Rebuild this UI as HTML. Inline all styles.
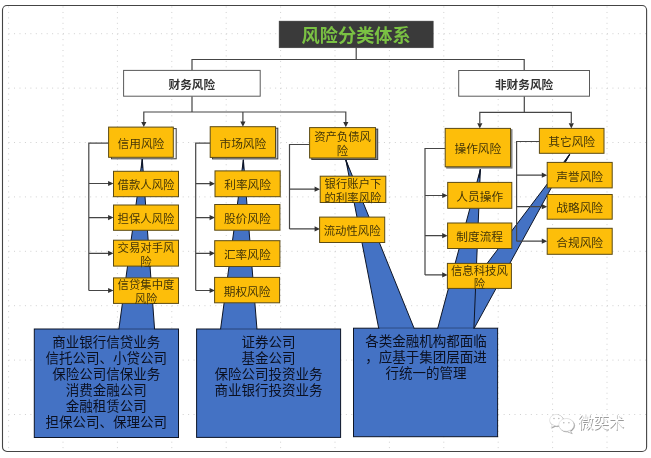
<!DOCTYPE html>
<html lang="zh-CN"><head><meta charset="utf-8"><title>风险分类体系</title><style>
html,body{margin:0;padding:0;background:#fff}
body{width:651px;height:458px;overflow:hidden;position:relative;font-family:"Liberation Sans","Noto Sans CJK SC",sans-serif}
#diagram{position:absolute;left:0;top:0;width:651px;height:458px;overflow:hidden}
#diagram svg{position:absolute;left:0;top:0;display:block;filter:blur(0.3px)}
#diagram svg text{font-family:"Liberation Sans","Noto Sans CJK SC",sans-serif;stroke:none}
</style></head>
<body>
<div id="diagram">
<svg width="651" height="458" viewBox="0 0 651 458" role="img" aria-label="风险分类体系"><rect x="2.5" y="5.5" width="644.1" height="446" rx="4.5" ry="4.5" fill="#fff" stroke="#444" stroke-width="1.1"/>
<path d="M8.6 6.5V450M63 6.5V450M117.4 6.5V450M171.8 6.5V450M226.2 6.5V450M280.6 6.5V450M335 6.5V450M389.4 6.5V450M443.8 6.5V450M498.2 6.5V450M552.6 6.5V450M607 6.5V450M8.6 33.7H646M8.6 88.1H646M8.6 142.5H646M8.6 196.9H646M8.6 251.3H646M8.6 305.7H646M8.6 360.1H646M8.6 414.5H646" fill="none" stroke="#d0d0d0" stroke-width="1" stroke-dasharray="1 4.44"/>
<g fill="#4472c4" stroke="#0d1527" stroke-width="1" stroke-linejoin="miter">
<path d="M118.8 329.6L142.3 159L154.6 329.6Z"/>
<rect x="34.3" y="329" width="144.2" height="108.5"/>
<path d="M220.5 329.6L243.4 159.8L257 329.6Z"/>
<rect x="196.6" y="329" width="144" height="108.4"/>
<path d="M378.8 328.8L345.8 159.8L414.3 328.8Z"/>
<path d="M437.6 328.8L569.7 154.3L473.9 328.8Z"/>
<path d="M437.6 328.8L480.4 169.2L473.9 328.8Z"/>
<rect x="353.5" y="328.2" width="144.1" height="108.5"/>
</g>
<path d="M142.3 159L142 168M243.4 159.8L243.15 168.8M345.8 159.8L348.4 168.42M569.7 154.3L564.77 161.83M480.4 169.2L479.02 178.09" fill="none" stroke="#0d1527" stroke-width="1.3" stroke-linecap="butt"/>
<path d="M119.5 329H153.9M221.2 329H256.3M379.5 328.2H413.6M438.3 328.2H473.2" fill="none" stroke="#4472c4" stroke-width="1.6" stroke-opacity="0.72"/>
<path d="M356.2 47.8V59.5M192 70.4V59.5H524.2V70.5M192 96.2V112M143.8 122V112H345.8V122M242.9 112V122M524.3 96.2V112.4M479.8 123V112.4H571.3V123M108.6 143.2H88.8V290.5M88.8 183.5H109.5M88.8 217.6H109.5M88.8 253.3H109.5M88.8 290.5H109.5M210.2 143.2H195.7V290.5M195.7 183.7H211M195.7 217.6H211M195.7 253.3H211M195.7 290.5H211M309.6 144.5H289.5V228.9M289.5 189.2H316M289.5 228.9H316M445.2 148.5H425V274.9M425 195.5H443.6M425 235.7H443.6M425 274.9H443.6M539.4 141.5H516.6V241.2M516.6 175.2H543.2M516.6 206.7H543.2M516.6 241.2H543.2" fill="none" stroke="#454545" stroke-width="1.2"/>
<path d="M143.8 127.1l-2.6 -5.2h5.2zM242.9 126.7l-2.6 -5.2h5.2zM345.8 127.2l-2.6 -5.2h5.2zM479.8 128.4l-2.6 -5.2h5.2zM571.3 128.4l-2.6 -5.2h5.2zM113.5 183.5l-5.4 -2.6v5.2zM113.5 217.6l-5.4 -2.6v5.2zM113.5 253.3l-5.4 -2.6v5.2zM113.5 290.5l-5.4 -2.6v5.2zM215 183.7l-5.4 -2.6v5.2zM215 217.6l-5.4 -2.6v5.2zM215 253.3l-5.4 -2.6v5.2zM215 290.5l-5.4 -2.6v5.2zM320 189.2l-5.4 -2.6v5.2zM320 228.9l-5.4 -2.6v5.2zM447.6 195.5l-5.4 -2.6v5.2zM447.6 235.7l-5.4 -2.6v5.2zM447.6 274.9l-5.4 -2.6v5.2zM547.2 175.2l-5.4 -2.6v5.2zM547.2 206.7l-5.4 -2.6v5.2zM547.2 241.2l-5.4 -2.6v5.2z" fill="#333"/>
<rect x="279.1" y="21.1" width="154.1" height="26.7" fill="#3a3a3a" stroke="#3a3a3a" stroke-width="0.5"/>
<text x="301.6" y="42.06" font-size="18.2" font-weight="bold" fill="#7ac143">风险分类体系</text>
<rect x="123.6" y="70.4" width="136.6" height="25.8" fill="#fff" stroke="#5a5a5a" stroke-width="1"/>
<text x="168.6" y="88.78" font-size="11.65" font-weight="bold" fill="#333333">财务风险</text>
<rect x="458.7" y="70.5" width="130.8" height="25.7" fill="#fff" stroke="#5a5a5a" stroke-width="1"/>
<text x="494.98" y="88.78" font-size="11.65" font-weight="bold" fill="#333333">非财务风险</text>
<rect x="111.5" y="128.6" width="64.7" height="30.2" fill="#f6f6f6" stroke="#3c3c3c" stroke-width="1"/>
<rect x="108.6" y="127.1" width="64.7" height="30.2" fill="#fdbe0a" stroke="#5b4a14" stroke-width="1"/>
<text x="117.56" y="147.8" font-size="11.7" fill="#433508">信用风险</text>
<rect x="212.5" y="128.2" width="65.3" height="30.7" fill="#c4c4c4" stroke="#3c3c3c" stroke-width="1"/>
<rect x="210.2" y="126.7" width="65.3" height="30.7" fill="#fdbe0a" stroke="#5b4a14" stroke-width="1"/>
<text x="219.46" y="147.65" font-size="11.7" fill="#433508">市场风险</text>
<rect x="311.8" y="129.1" width="65.9" height="30.4" fill="#8c8c8c" stroke="#3c3c3c" stroke-width="1"/>
<rect x="309.6" y="127.6" width="65.9" height="30.4" fill="#fdbe0a" stroke="#5b4a14" stroke-width="1"/>
<text x="314.15" y="141.44" font-size="11.36" fill="#433508">资产负债风</text>
<text x="336.87" y="155.29" font-size="11.36" fill="#433508">险</text>
<rect x="446.7" y="129.7" width="65.3" height="38.4" fill="#8a8a8a" stroke="#808080" stroke-width="1"/>
<rect x="445.2" y="128.4" width="65.3" height="38.4" fill="#fdbe0a" stroke="#5b4a14" stroke-width="1"/>
<text x="454.46" y="153.2" font-size="11.7" fill="#433508">操作风险</text>
<rect x="539.4" y="128.4" width="64.6" height="24.9" fill="#fdbe0a" stroke="#5b4a14" stroke-width="1"/>
<text x="548.31" y="146.45" font-size="11.7" fill="#433508">其它风险</text>
<rect x="113.5" y="171.3" width="65" height="25.4" fill="#fdbe0a" stroke="#5b4a14" stroke-width="1"/>
<text x="117.6" y="189.26" font-size="11.36" fill="#433508">借款人风险</text>
<rect x="113.5" y="205" width="65" height="25.3" fill="#fdbe0a" stroke="#5b4a14" stroke-width="1"/>
<text x="117.6" y="222.91" font-size="11.36" fill="#433508">担保人风险</text>
<rect x="113.5" y="240.2" width="65" height="25.9" fill="#fdbe0a" stroke="#5b4a14" stroke-width="1"/>
<text x="117.6" y="251.79" font-size="11.36" fill="#433508">交易对手风</text>
<text x="140.32" y="265.64" font-size="11.36" fill="#433508">险</text>
<rect x="113.5" y="277.9" width="65" height="25.5" fill="#fdbe0a" stroke="#5b4a14" stroke-width="1"/>
<text x="117.6" y="289.29" font-size="11.36" fill="#433508">信贷集中度</text>
<text x="134.64" y="303.14" font-size="11.36" fill="#433508">风险</text>
<rect x="215" y="170.9" width="65.2" height="25.8" fill="#fdbe0a" stroke="#5b4a14" stroke-width="1"/>
<text x="224.21" y="189.2" font-size="11.7" fill="#433508">利率风险</text>
<rect x="214.7" y="204.5" width="65.2" height="25.7" fill="#fdbe0a" stroke="#5b4a14" stroke-width="1"/>
<text x="223.91" y="222.75" font-size="11.7" fill="#433508">股价风险</text>
<rect x="214.7" y="240.7" width="65.2" height="25.8" fill="#fdbe0a" stroke="#5b4a14" stroke-width="1"/>
<text x="223.91" y="259" font-size="11.7" fill="#433508">汇率风险</text>
<rect x="214.6" y="277.4" width="65" height="25.4" fill="#fdbe0a" stroke="#5b4a14" stroke-width="1"/>
<text x="223.71" y="295.5" font-size="11.7" fill="#433508">期权风险</text>
<rect x="320.2" y="176.2" width="65.6" height="26.3" fill="#fdbe0a" stroke="#5b4a14" stroke-width="1"/>
<text x="324.6" y="187.99" font-size="11.36" fill="#433508">银行账户下</text>
<text x="324.6" y="201.84" font-size="11.36" fill="#433508">的利率风险</text>
<rect x="319.6" y="217.1" width="65.1" height="25.4" fill="#fdbe0a" stroke="#5b4a14" stroke-width="1"/>
<text x="323.75" y="235.06" font-size="11.36" fill="#433508">流动性风险</text>
<rect x="447.7" y="182.4" width="64.1" height="25.9" fill="#fdbe0a" stroke="#5b4a14" stroke-width="1"/>
<text x="456.36" y="200.75" font-size="11.7" fill="#433508">人员操作</text>
<rect x="447.6" y="223" width="64.2" height="25.5" fill="#fdbe0a" stroke="#5b4a14" stroke-width="1"/>
<text x="456.31" y="241.15" font-size="11.7" fill="#433508">制度流程</text>
<rect x="447.4" y="263.4" width="64" height="25" fill="#fdbe0a" stroke="#5b4a14" stroke-width="1"/>
<text x="451" y="274.54" font-size="11.36" fill="#433508">信息科技风</text>
<text x="473.72" y="288.39" font-size="11.36" fill="#433508">险</text>
<rect x="547.2" y="162.4" width="65" height="25.5" fill="#fdbe0a" stroke="#5b4a14" stroke-width="1"/>
<text x="556.31" y="180.55" font-size="11.7" fill="#433508">声誉风险</text>
<rect x="547.2" y="194.5" width="65" height="24.7" fill="#fdbe0a" stroke="#5b4a14" stroke-width="1"/>
<text x="556.31" y="212.25" font-size="11.7" fill="#433508">战略风险</text>
<rect x="547.2" y="228.3" width="65" height="26" fill="#fdbe0a" stroke="#5b4a14" stroke-width="1"/>
<text x="556.31" y="246.7" font-size="11.7" fill="#433508">合规风险</text>
<text x="52.3" y="346.93" font-size="13.5" fill="#0b1020">商业银行信贷业务</text>
<text x="45.55" y="362.98" font-size="13.5" fill="#0b1020">信托公司、小贷公司</text>
<text x="52.3" y="379.03" font-size="13.5" fill="#0b1020">保险公司信保业务</text>
<text x="65.8" y="395.08" font-size="13.5" fill="#0b1020">消费金融公司</text>
<text x="65.8" y="411.13" font-size="13.5" fill="#0b1020">金融租赁公司</text>
<text x="45.55" y="427.18" font-size="13.5" fill="#0b1020">担保公司、保理公司</text>
<text x="241.4" y="346.93" font-size="13.5" fill="#0b1020">证券公司</text>
<text x="241.4" y="362.98" font-size="13.5" fill="#0b1020">基金公司</text>
<text x="214.4" y="379.03" font-size="13.5" fill="#0b1020">保险公司投资业务</text>
<text x="214.4" y="395.08" font-size="13.5" fill="#0b1020">商业银行投资业务</text>
<text x="365.3" y="346.13" font-size="13.5" fill="#0b1020">各类金融机构都面临</text>
<text x="365.3" y="362.18" font-size="13.5" fill="#0b1020">，应基于集团层面进</text>
<text x="385.55" y="378.23" font-size="13.5" fill="#0b1020">行统一的管理</text>
<g fill="#909090" stroke="#909090" stroke-width="0.5" transform="translate(0.7 0.7)" opacity="0.9"><ellipse cx="556.4" cy="420.2" rx="6.8" ry="5.8"/><path d="M552.4 424.4l-1.4 3.2 3.8-1.9z"/><ellipse cx="566.4" cy="424.9" rx="7.6" ry="6.4"/><path d="M569.8 430.2l1.8 2.8-4-1.5z"/><text x="578.1" y="428.49" font-size="15.4">微奕术</text></g>
<g fill="#fff" stroke="#cdcdcd" stroke-width="0.5"><ellipse cx="556.4" cy="420.2" rx="6.8" ry="5.8"/><path d="M552.4 424.4l-1.4 3.2 3.8-1.9z"/><ellipse cx="566.4" cy="424.9" rx="7.6" ry="6.4"/><path d="M569.8 430.2l1.8 2.8-4-1.5z"/><text x="578.1" y="428.49" font-size="15.4">微奕术</text></g>
<g fill="#b5b5b5"><circle cx="554" cy="418.5" r="0.75"/><circle cx="558.8" cy="418.5" r="0.75"/><circle cx="563.8" cy="422.8" r="0.8"/><circle cx="568.9" cy="422.8" r="0.8"/></g></svg>
</div>
</body></html>
